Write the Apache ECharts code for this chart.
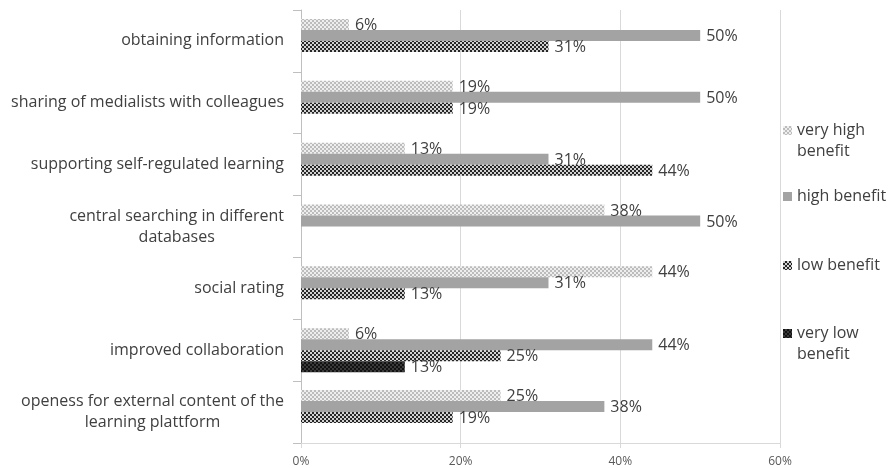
<!DOCTYPE html>
<html>
<head>
<meta charset="utf-8">
<script src="https://cdn.jsdelivr.net/npm/echarts@6/dist/echarts.min.js"></script>
<style>
  html, body { margin: 0; padding: 0; background: #ffffff; }
  #chart { width: 893px; height: 468px; }
</style>
</head>
<body>
<div id="chart"></div>
<script>
// Perceived benefit of platform features (share of respondents, %)
const categories = [
  'obtaining information',
  'sharing of medialists with colleagues',
  'supporting self-regulated learning',
  'central searching in different databases',
  'social rating',
  'improved collaboration',
  'openess for external content of the learning plattform'
];
const seriesNames = ['very high benefit', 'high benefit', 'low benefit', 'very low benefit'];
const veryHighBenefit = [6, 19, 13, 38, 44, 6, 25];
const highBenefit     = [50, 50, 31, 50, 31, 44, 38];
const lowBenefit      = [31, 19, 44, null, 13, 25, 19];
const veryLowBenefit  = [null, null, null, null, null, 13, null];
const xTicks = [0, 20, 40, 60];

const FONT = '"Open Sans", sans-serif';
const TEXT = '#404040';

// Small repeating fills used for the bars and legend keys
function checker(bg, fg, cell) {
  const c = document.createElement('canvas');
  c.width = c.height = cell * 2;
  const g = c.getContext('2d');
  g.fillStyle = bg; g.fillRect(0, 0, cell * 2, cell * 2);
  g.fillStyle = fg;
  g.fillRect(0, 0, cell, cell);
  g.fillRect(cell, cell, cell, cell);
  return c;
}
function solid(col) {
  const c = document.createElement('canvas');
  c.width = c.height = 4;
  const g = c.getContext('2d');
  g.fillStyle = col; g.fillRect(0, 0, 4, 4);
  return c;
}
const fills = [
  checker('#eeeeee', '#bcbcbc', 2),
  solid('#a3a3a3'),
  checker('#d2d2d2', '#262626', 2),
  checker('#121212', '#3a3a3a', 2)
];

// Legend key: a 9px square aligned with the first text line
const LINE_H = 21;
function legendIcon(fill, lines) {
  const c = document.createElement('canvas');
  c.width = 9; c.height = LINE_H * lines;
  const g = c.getContext('2d');
  g.fillStyle = g.createPattern(fill, 'repeat');
  g.fillRect(0, 6, 9, 9);
  return 'image://' + c.toDataURL();
}
const legendLines = [2, 1, 1, 2];
const legendTops = [120, 186, 255, 323];

// Wrap long category names onto several lines
function wrap(text, maxChars) {
  const words = text.split(' ');
  const lines = [];
  let cur = '';
  words.forEach(w => {
    const next = cur ? cur + ' ' + w : w;
    if (next.length > maxChars && cur) { lines.push(cur); cur = w; }
    else cur = next;
  });
  if (cur) lines.push(cur);
  return lines;
}

const values = [veryHighBenefit, highBenefit, lowBenefit, veryLowBenefit];

const chart = echarts.init(document.getElementById('chart'), null, { renderer: 'canvas' });
chart.setOption({
  animation: false,
  backgroundColor: '#ffffff',
  grid: { left: 301, right: 113, top: 10, bottom: 25, containLabel: false, outerBoundsMode: 'none' },
  xAxis: {
    type: 'value',
    min: xTicks[0],
    max: xTicks[xTicks.length - 1],
    interval: xTicks[1] - xTicks[0],
    axisLine: { show: true, lineStyle: { color: '#d9d9d9', width: 1 } },
    axisTick: { show: true, length: 5, lineStyle: { color: '#d9d9d9' } },
    splitLine: { show: true, lineStyle: { color: '#d9d9d9', width: 1 } },
    axisLabel: { formatter: '{value}%', fontFamily: FONT, fontSize: 12, color: '#595959', margin: 13 }
  },
  yAxis: {
    type: 'category',
    inverse: true,
    data: categories,
    axisLine: { show: true, lineStyle: { color: '#bfbfbf', width: 1 } },
    axisTick: { show: true, length: 8, lineStyle: { color: '#bfbfbf' } },
    axisLabel: {
      margin: 17,
      formatter: v => wrap(v, 37).map(l => '{c|' + l + '}').join('\n'),
      rich: { c: { align: 'center', fontFamily: FONT, fontSize: 16, color: TEXT, lineHeight: LINE_H } }
    }
  },
  legend: seriesNames.map((name, i) => ({
    orient: 'vertical',
    left: 783,
    top: legendTops[i],
    padding: 0,
    itemGap: 0,
    itemWidth: 9,
    itemHeight: LINE_H * legendLines[i],
    selectedMode: false,
    data: [{ name: name, icon: legendIcon(fills[i], legendLines[i]) }],
    textStyle: { fontFamily: FONT, fontSize: 16, color: TEXT, lineHeight: LINE_H, width: 96, overflow: 'break' }
  })),
  series: seriesNames.map((name, i) => ({
    type: 'bar',
    name: name,
    data: values[i],
    barWidth: 11,
    barGap: '0%',
    itemStyle: { color: { image: fills[i], repeat: 'repeat' } },
    emphasis: { disabled: true },
    label: {
      show: true,
      position: 'right',
      distance: 6,
      offset: [0, 1],
      formatter: p => p.value + '%',
      fontFamily: FONT,
      fontSize: 16,
      color: TEXT
    }
  }))
});
</script>
</body>
</html>
